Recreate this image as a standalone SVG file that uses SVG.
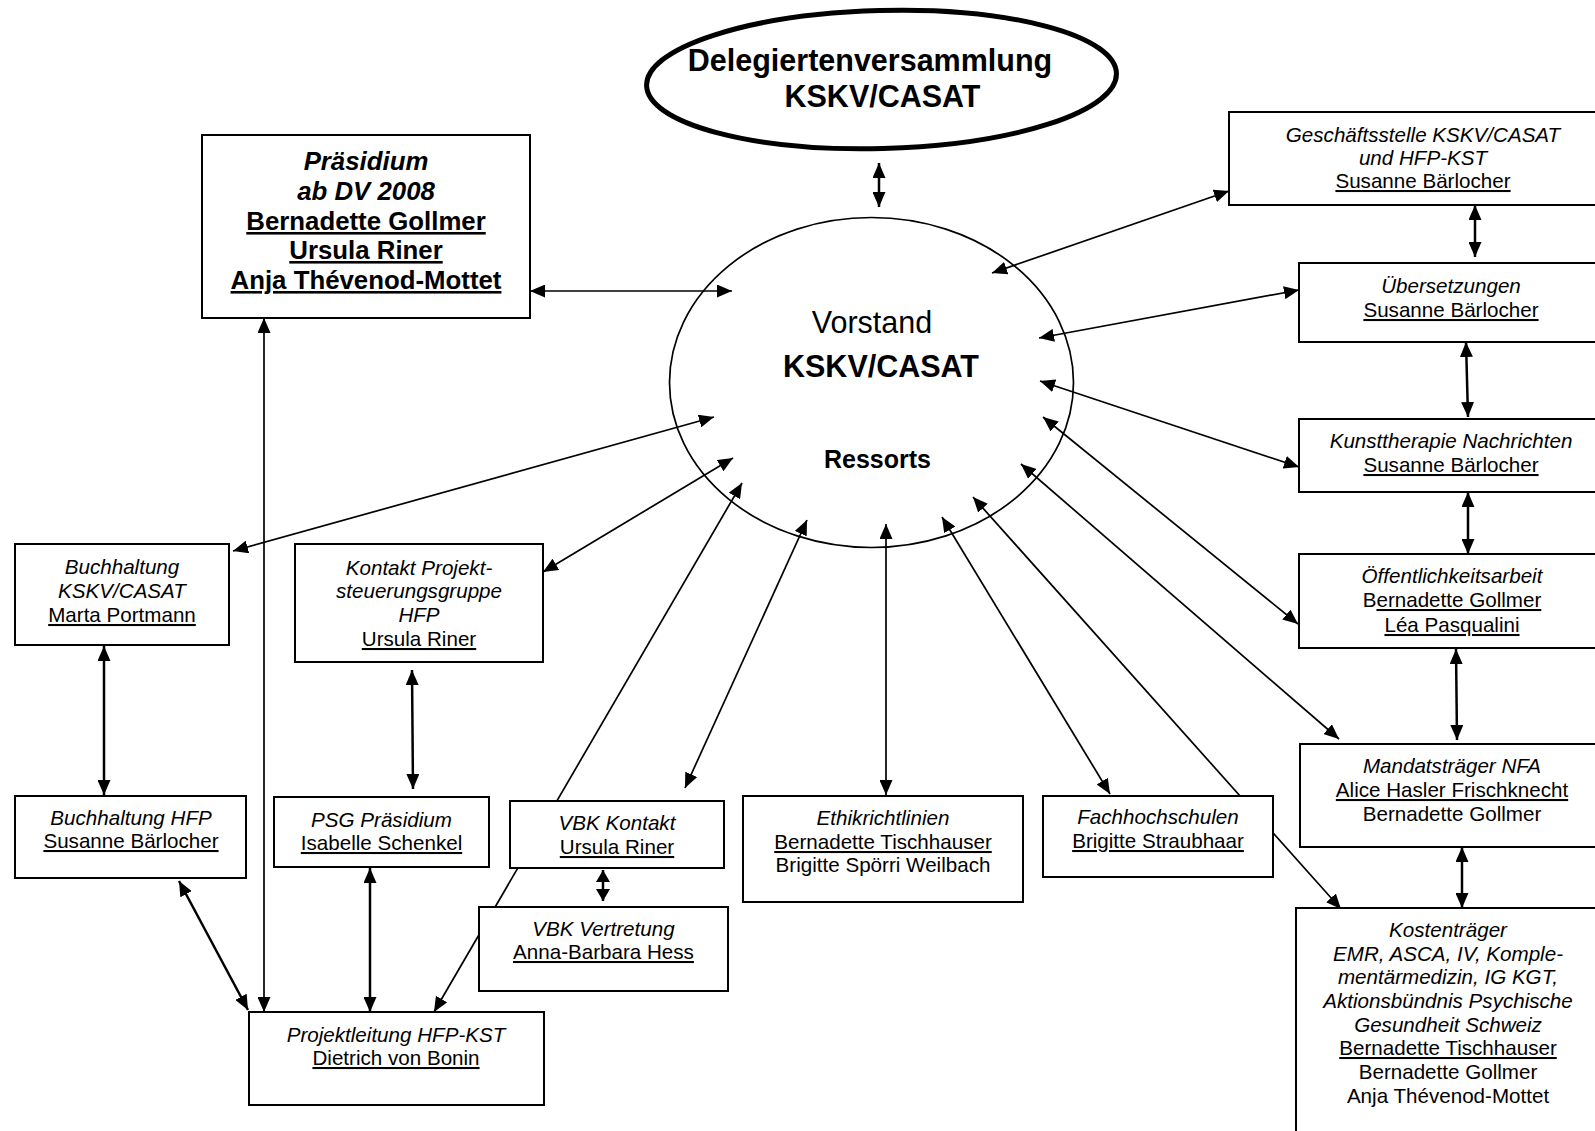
<svg xmlns="http://www.w3.org/2000/svg" width="1595" height="1131" viewBox="0 0 1595 1131">
<style>
text{font-family:"Liberation Sans",Arial,sans-serif;font-size:20.6px;fill:#000;text-anchor:middle}
.i{font-style:italic}
.u{text-decoration:underline}
.b{font-weight:bold}
.box{fill:#fff;stroke:#000;stroke-width:2}
.c{stroke:#000;stroke-width:1.7;fill:none;marker-start:url(#ah);marker-end:url(#ah)}
.t{stroke-width:2.5}
.s{marker-start:url(#ahs);marker-end:url(#ahs)}
</style>
<defs>
<marker id="ah" markerUnits="userSpaceOnUse" markerWidth="15" markerHeight="13" refX="15" refY="6.5" orient="auto-start-reverse" viewBox="0 0 15 13">
<path d="M0,0 L15,6.5 L0,13 z" fill="#000"/>
</marker>
<marker id="ahs" markerUnits="userSpaceOnUse" markerWidth="12" markerHeight="14" refX="12" refY="7" orient="auto-start-reverse" viewBox="0 0 12 14">
<path d="M0,0 L12,7 L0,14 z" fill="#000"/>
</marker>
</defs>
<rect width="1595" height="1131" fill="#fff"/>
<g id="connectors">
<line class="c t" x1="879" y1="163" x2="879" y2="207"/>
<line class="c" x1="530" y1="291" x2="732" y2="291"/>
<line class="c" x1="264" y1="318" x2="264" y2="1012"/>
<line class="c" x1="992" y1="273" x2="1229" y2="191"/>
<line class="c" x1="1039" y1="338" x2="1299" y2="290"/>
<line class="c" x1="1040" y1="381" x2="1299" y2="467"/>
<line class="c" x1="1043" y1="417" x2="1298" y2="624"/>
<line class="c" x1="1021" y1="464" x2="1339" y2="739"/>
<line class="c" x1="973" y1="497" x2="1341" y2="909"/>
<line class="c" x1="942" y1="517" x2="1110" y2="794"/>
<line class="c" x1="886" y1="524" x2="886" y2="795"/>
<line class="c" x1="807" y1="520" x2="685" y2="788"/>
<line class="c" x1="742" y1="483" x2="434" y2="1012"/>
<line class="c" x1="733" y1="458" x2="543" y2="572"/>
<line class="c" x1="714" y1="417" x2="233" y2="551"/>
<line class="c t" x1="1475" y1="205" x2="1475" y2="257"/>
<line class="c t" x1="1466" y1="342" x2="1468" y2="417"/>
<line class="c t" x1="1468" y1="492" x2="1468" y2="554"/>
<line class="c t" x1="1456" y1="649" x2="1457" y2="740"/>
<line class="c t" x1="1462" y1="847" x2="1462" y2="908"/>
<line class="c t" x1="104" y1="646" x2="104" y2="795"/>
<line class="c t" x1="412" y1="670" x2="413" y2="789"/>
<line class="c t" x1="370" y1="868" x2="370" y2="1012"/>
<line class="c t" x1="179" y1="881" x2="248" y2="1010"/>
<line class="c t s" x1="603" y1="870" x2="603" y2="901"/>
</g>
<g id="delegiertenversammlung">
<ellipse cx="881.5" cy="79.5" rx="235" ry="69" fill="#fff" stroke="#000" stroke-width="5" transform="rotate(-1.5 881.5 79.5)"/>
<text class="b" style="font-size:30.5px" x="870" y="71">Delegiertenversammlung</text>
<text class="b" style="font-size:30.5px" x="882.5" y="107">KSKV/CASAT</text>
</g>
<g id="vorstand">
<ellipse cx="871.5" cy="382.5" rx="202" ry="165" fill="none" stroke="#000" stroke-width="1.7"/>
<text style="font-size:30.5px" x="872" y="333">Vorstand</text>
<text class="b" style="font-size:30.5px" x="881" y="377">KSKV/CASAT</text>
<text class="b" style="font-size:25px" x="877.5" y="468">Ressorts</text>
</g>
<g id="praesidium">
<rect class="box" x="202" y="135" width="328" height="183"/>
<text class="b i" style="font-size:25.8px" x="366" y="170">Präsidium</text>
<text class="b i" style="font-size:25.8px" x="366" y="200">ab DV 2008</text>
<text class="b u" style="font-size:25.8px" x="366" y="230">Bernadette Gollmer</text>
<text class="b u" style="font-size:25.8px" x="366" y="259">Ursula Riner</text>
<text class="b u" style="font-size:25.8px" x="366" y="289">Anja Thévenod-Mottet</text>
</g>
<g id="geschaeftsstelle">
<rect class="box" x="1229" y="112" width="400" height="93"/>
<text class="i" x="1423" y="142">Geschäftsstelle KSKV/CASAT</text>
<text class="i" x="1423" y="165">und HFP-KST</text>
<text class="u" x="1423" y="188">Susanne Bärlocher</text>
</g>
<g id="uebersetzungen">
<rect class="box" x="1299" y="263" width="330" height="79"/>
<text class="i" x="1451" y="293">Übersetzungen</text>
<text class="u" x="1451" y="317">Susanne Bärlocher</text>
</g>
<g id="kunsttherapie">
<rect class="box" x="1299" y="419" width="330" height="73"/>
<text class="i" x="1451" y="448">Kunsttherapie Nachrichten</text>
<text class="u" x="1451" y="472">Susanne Bärlocher</text>
</g>
<g id="oeffentlichkeitsarbeit">
<rect class="box" x="1299" y="554" width="330" height="94"/>
<text class="i" x="1452" y="583">Öffentlichkeitsarbeit</text>
<text x="1452" y="607">B<tspan class="u">ernadette Gollmer</tspan></text>
<text class="u" x="1452" y="632">Léa Pasqualini</text>
</g>
<g id="mandatstraeger">
<rect class="box" x="1300" y="744" width="330" height="103"/>
<text class="i" x="1452" y="773">Mandatsträger NFA</text>
<text class="u" x="1452" y="797">Alice Hasler Frischknecht</text>
<text x="1452" y="821">Bernadette Gollmer</text>
</g>
<g id="kostentraeger">
<rect class="box" x="1296" y="908" width="330" height="240"/>
<text class="i" x="1448" y="937">Kostenträger</text>
<text class="i" x="1448" y="961">EMR, ASCA, IV, Komple-</text>
<text class="i" x="1448" y="984">mentärmedizin, IG KGT,</text>
<text class="i" x="1448" y="1008">Aktionsbündnis Psychische</text>
<text class="i" x="1448" y="1032">Gesundheit Schweiz</text>
<text class="u" x="1448" y="1055">Bernadette Tischhauser</text>
<text x="1448" y="1079">Bernadette Gollmer</text>
<text x="1448" y="1103">Anja Thévenod-Mottet</text>
</g>
<g id="buchhaltung-kskv">
<rect class="box" x="15" y="544" width="214" height="101"/>
<text class="i" x="122" y="574">Buchhaltung</text>
<text class="i" x="122" y="598">KSKV/CASAT</text>
<text class="u" x="122" y="622">Marta Portmann</text>
</g>
<g id="kontakt-psg">
<rect class="box" x="295" y="544" width="248" height="118"/>
<text class="i" x="419" y="575">Kontakt Projekt-</text>
<text class="i" x="419" y="598">steuerungsgruppe</text>
<text class="i" x="419" y="622">HFP</text>
<text class="u" x="419" y="646">Ursula Riner</text>
</g>
<g id="buchhaltung-hfp">
<rect class="box" x="15" y="796" width="231" height="82"/>
<text class="i" x="131" y="825">Buchhaltung HFP</text>
<text class="u" x="131" y="848">Susanne Bärlocher</text>
</g>
<g id="psg-praesidium">
<rect class="box" x="274" y="797" width="215" height="70"/>
<text class="i" x="381.5" y="827">PSG Präsidium</text>
<text class="u" x="381.5" y="850">Isabelle Schenkel</text>
</g>
<g id="vbk-kontakt">
<rect class="box" x="510" y="801" width="214" height="67"/>
<text class="i" x="617" y="830">VBK Kontakt</text>
<text class="u" x="617" y="854">Ursula Riner</text>
</g>
<g id="vbk-vertretung">
<rect class="box" x="479" y="907" width="249" height="84"/>
<text class="i" x="603.5" y="936">VBK Vertretung</text>
<text class="u" x="603.5" y="959">Anna-Barbara Hess</text>
</g>
<g id="projektleitung">
<rect class="box" x="249" y="1012" width="295" height="93"/>
<text class="i" x="396" y="1042">Projektleitung HFP-KST</text>
<text class="u" x="396" y="1065">Dietrich von Bonin</text>
</g>
<g id="ethikrichtlinien">
<rect class="box" x="743" y="796" width="280" height="106"/>
<text class="i" x="883" y="825">Ethikrichtlinien</text>
<text class="u" x="883" y="849">Bernadette Tischhauser</text>
<text x="883" y="872">Brigitte Spörri Weilbach</text>
</g>
<g id="fachhochschulen">
<rect class="box" x="1043" y="796" width="230" height="81"/>
<text class="i" x="1158" y="824">Fachhochschulen</text>
<text class="u" x="1158" y="848">Brigitte Straubhaar</text>
</g>
</svg>
